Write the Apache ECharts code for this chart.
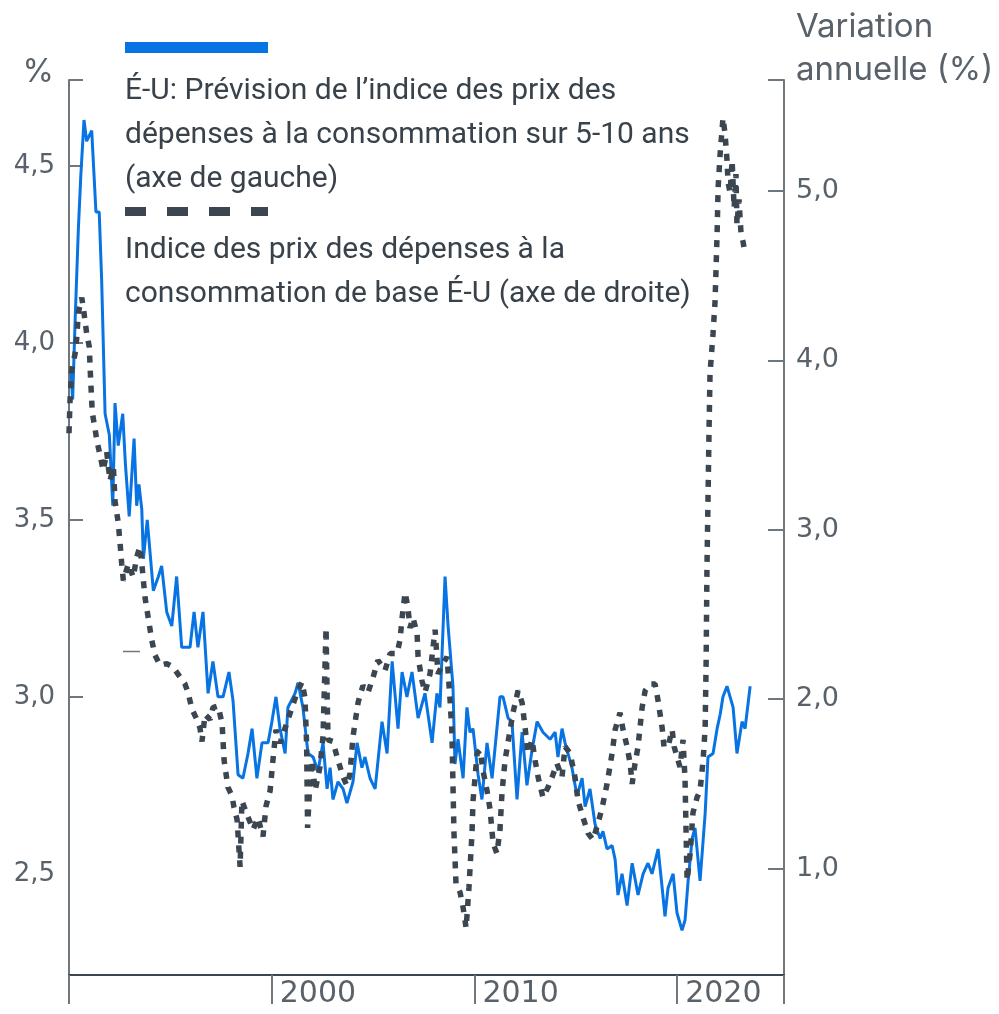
<!DOCTYPE html>
<html><head><meta charset="utf-8">
<script src="https://cdn.jsdelivr.net/npm/echarts@6/dist/echarts.min.js"></script>
<style>html,body{margin:0;padding:0;background:#fff}#c{width:999px;height:1014px}</style>
</head><body><div id="c"></div><script>
// Blue: U.S. 5-10 year PCE inflation expectation (left axis, %)
const forecastYears = [1990.10,1990.18,1990.30,1990.46,1990.58,1990.74,1990.87,1990.95,1991.12,1991.33,1991.49,1991.61,1991.78,1991.99,1992.16,1992.27,1992.43,1992.65,1992.78,1992.97,1993.21,1993.34,1993.45,1993.59,1993.67,1993.86,1994.16,1994.41,1994.57,1994.82,1995.07,1995.31,1995.56,1995.97,1996.17,1996.36,1996.61,1996.86,1997.10,1997.35,1997.60,1997.89,1998.09,1998.34,1998.58,1998.83,1999.03,1999.27,1999.52,1999.82,2000.01,2000.21,2000.41,2000.66,2000.80,2001.15,2001.30,2001.54,2001.79,2002.04,2002.28,2002.53,2002.73,2002.88,2003.02,2003.27,2003.52,2003.71,2004.01,2004.21,2004.45,2004.60,2004.85,2005.10,2005.44,2005.69,2005.94,2006.23,2006.43,2006.67,2006.92,2007.22,2007.56,2007.91,2008.15,2008.30,2008.55,2008.70,2008.94,2009.04,2009.19,2009.44,2009.63,2009.78,2009.93,2010.18,2010.37,2010.62,2010.87,2011.26,2011.41,2011.66,2011.85,2012.10,2012.35,2012.59,2012.84,2013.09,2013.38,2013.73,2013.98,2014.12,2014.32,2014.47,2014.81,2015.06,2015.31,2015.46,2015.70,2015.95,2016.20,2016.34,2016.54,2016.79,2016.94,2017.08,2017.28,2017.53,2017.78,2018.07,2018.32,2018.56,2018.76,2019.06,2019.26,2019.40,2019.55,2019.80,2019.99,2020.24,2020.39,2020.54,2020.74,2020.88,2021.13,2021.38,2021.52,2021.77,2021.97,2022.12,2022.26,2022.46,2022.61,2022.76,2022.95,2023.20,2023.35,2023.60];
const forecastValues = [3.92,3.84,4.06,4.32,4.47,4.63,4.57,4.57,4.60,4.37,4.37,4.18,3.80,3.74,3.54,3.83,3.71,3.80,3.66,3.51,3.73,3.54,3.60,3.53,3.39,3.50,3.30,3.34,3.37,3.24,3.20,3.34,3.14,3.14,3.24,3.14,3.24,3.01,3.10,3.00,3.00,3.07,2.99,2.78,2.77,2.84,2.91,2.77,2.87,2.87,2.93,3.00,2.91,2.84,2.97,3.01,3.04,2.97,2.84,2.83,2.79,2.87,2.74,2.80,2.71,2.76,2.74,2.70,2.76,2.87,2.80,2.83,2.77,2.74,2.93,2.84,3.10,2.91,3.07,3.00,3.07,2.94,3.01,2.87,3.01,2.97,3.34,3.20,3.03,2.81,2.88,2.77,2.97,2.90,2.91,2.78,2.71,2.87,2.77,3.00,3.00,2.94,2.93,2.71,2.90,2.75,2.85,2.93,2.90,2.88,2.90,2.83,2.91,2.87,2.80,2.72,2.77,2.69,2.74,2.64,2.60,2.62,2.57,2.58,2.54,2.44,2.50,2.41,2.53,2.44,2.50,2.53,2.50,2.57,2.46,2.38,2.46,2.50,2.39,2.34,2.37,2.48,2.60,2.63,2.48,2.67,2.83,2.84,2.91,2.95,3.00,3.03,3.00,2.97,2.84,2.93,2.91,3.03];

// Dashed: U.S. core PCE price index, annual change (right axis, %)
const coreYears = [1990.00,1990.05,1990.13,1990.30,1990.38,1990.46,1990.63,1990.74,1990.87,1991.00,1991.07,1991.15,1991.28,1991.37,1991.53,1991.69,1991.86,1992.02,1992.19,1992.27,1992.43,1992.52,1992.60,1992.68,1992.93,1993.17,1993.34,1993.50,1993.59,1993.75,1993.91,1994.08,1994.24,1994.49,1994.82,1995.13,1995.48,1995.72,1995.87,1996.07,1996.31,1996.46,1996.56,1996.71,1996.96,1997.10,1997.35,1997.55,1997.65,1997.84,1998.04,1998.14,1998.29,1998.44,1998.53,1998.78,1999.08,1999.32,1999.57,1999.72,1999.92,2000.06,2000.21,2000.41,2000.66,2001.00,2001.25,2001.49,2001.64,2001.72,2001.77,2001.87,2001.99,2002.14,2002.38,2002.53,2002.68,2002.73,2002.78,2003.02,2003.27,2003.52,2003.71,2003.86,2004.01,2004.26,2004.50,2004.75,2005.00,2005.24,2005.59,2005.84,2006.18,2006.33,2006.43,2006.58,2006.72,2006.82,2006.97,2007.17,2007.22,2007.41,2007.56,2007.81,2007.96,2008.06,2008.20,2008.45,2008.65,2008.80,2008.89,2008.94,2008.99,2009.09,2009.29,2009.44,2009.59,2009.73,2009.88,2009.93,2010.13,2010.28,2010.42,2010.62,2010.77,2010.92,2011.11,2011.26,2011.36,2011.51,2011.76,2011.90,2012.15,2012.35,2012.50,2012.64,2012.84,2012.99,2013.14,2013.38,2013.63,2013.83,2014.07,2014.32,2014.47,2014.72,2014.96,2015.11,2015.36,2015.60,2015.85,2016.10,2016.30,2016.54,2016.79,2016.94,2017.18,2017.33,2017.53,2017.68,2017.78,2017.92,2018.07,2018.27,2018.42,2018.66,2018.91,2019.06,2019.26,2019.35,2019.55,2019.75,2019.85,2019.99,2020.14,2020.29,2020.39,2020.46,2020.49,2020.64,2020.78,2020.98,2021.13,2021.28,2021.38,2021.43,2021.47,2021.52,2021.57,2021.62,2021.72,2021.77,2021.87,2021.92,2021.97,2022.02,2022.12,2022.26,2022.36,2022.46,2022.51,2022.61,2022.71,2022.81,2022.90,2022.95,2023.05,2023.15,2023.25,2023.35];
const coreValues = [3.57,3.76,3.94,4.04,4.13,4.28,4.37,4.28,4.16,4.08,3.88,3.69,3.60,3.53,3.44,3.35,3.46,3.29,3.37,3.17,3.04,2.92,2.80,2.70,2.80,2.72,2.84,2.90,2.80,2.60,2.48,2.35,2.26,2.20,2.21,2.19,2.13,2.09,2.04,1.94,1.88,1.83,1.75,1.91,1.88,1.95,1.96,1.86,1.64,1.48,1.43,1.36,1.29,1.01,1.40,1.32,1.23,1.30,1.19,1.37,1.46,1.64,1.82,1.74,1.83,1.95,2.04,2.10,2.01,1.74,1.24,1.48,1.64,1.46,1.60,1.78,2.42,2.04,1.76,1.75,1.64,1.54,1.49,1.56,1.78,1.98,2.08,2.04,2.13,2.23,2.17,2.27,2.27,2.35,2.48,2.63,2.54,2.42,2.48,2.39,2.25,2.11,2.04,2.15,2.31,2.41,2.15,2.21,2.25,1.99,1.80,1.50,1.21,0.91,0.86,0.77,0.65,0.89,1.21,1.40,1.68,1.70,1.58,1.46,1.35,1.15,1.09,1.23,1.45,1.64,1.82,1.92,2.05,1.98,1.83,1.68,1.76,1.64,1.54,1.42,1.48,1.54,1.62,1.54,1.72,1.68,1.54,1.40,1.30,1.21,1.17,1.27,1.36,1.50,1.68,1.82,1.92,1.82,1.72,1.62,1.50,1.62,1.72,1.95,2.05,2.09,2.09,1.99,1.83,1.72,1.72,1.82,1.72,1.66,1.60,1.76,1.52,1.09,0.93,1.09,1.33,1.42,1.46,1.64,1.83,2.23,2.78,3.17,3.57,3.92,4.08,4.16,4.35,4.55,4.75,5.02,5.22,5.43,5.34,5.18,5.05,4.99,5.18,4.90,5.10,4.80,4.95,4.75,4.70,4.63];

const leftTickValues = [3.0, 3.5, 4.0, 4.5];
const leftLabelValues = [2.5, 3.0, 3.5, 4.0, 4.5];
const rightLabelValues = [1, 2, 3, 4, 5];
const xLabelValues = [2000, 2010, 2020];
const xTickValues = [1990, 2000, 2010, 2020];

const LEFT_MIN = 2.214, LEFT_MAX = 4.743;
const RIGHT_MIN = 0.372, RIGHT_MAX = 5.655;
const X_MIN = 1990, X_MAX = 2025.27;

const legend1 = ['É-U: Prévision de l’indice des prix des', 'dépenses à la consommation sur 5-10 ans', '(axe de gauche)'];
const legend2 = ['Indice des prix des dépenses à la', 'consommation de base É-U (axe de droite)'];
const rightTitle = ['Variation', 'annuelle (%)'];

const BLUE = '#0873e3', DARK = '#3b4650', AXIS = '#6f777e', LABEL = '#59626a', TEXT = '#39424a';
const fmt = v => Number(v).toFixed(1).replace('.', ',');

const chart = echarts.init(document.getElementById('c'), null, {renderer: 'canvas'});
const zip = (a, b) => a.map((x, i) => [x, b[i]]);

const graphic = [];
graphic.push({type: 'rect', shape: {x: 125, y: 42, width: 143, height: 11}, style: {fill: BLUE}});
graphic.push({type: 'line', shape: {x1: 125, y1: 211.5, x2: 268, y2: 211.5}, style: {stroke: DARK, lineWidth: 9, lineDash: [21, 21]}});
legend1.forEach((t, i) => graphic.push({type: 'text', x: 125, y: 91 + i * 44, style: {text: t, fill: TEXT, font: '30px Roboto', verticalAlign: 'middle'}}));
legend2.forEach((t, i) => graphic.push({type: 'text', x: 125, y: 250 + i * 44, style: {text: t, fill: TEXT, font: '30px Roboto', verticalAlign: 'middle'}}));
rightTitle.forEach((t, i) => graphic.push({type: 'text', x: 796, y: 27 + i * 43, style: {text: t, fill: LABEL, font: '33px Inter', verticalAlign: 'middle'}}));
graphic.push({type: 'text', x: 54, y: 72, style: {text: '%', fill: LABEL, font: '32px Inter', align: 'right', verticalAlign: 'middle'}});
graphic.push({type: 'line', shape: {x1: 123, y1: 651.5, x2: 140, y2: 651.5}, style: {stroke: AXIS, lineWidth: 1.5}});

chart.setOption({
  animation: false,
  backgroundColor: '#fff',
  grid: {left: 69, right: 215, top: 80, bottom: 39, containLabel: false},
  xAxis: {
    type: 'value', min: X_MIN, max: X_MAX,
    axisLine: {show: true, lineStyle: {color: DARK, width: 2}},
    axisTick: {show: true, length: 29, lineStyle: {color: AXIS, width: 2}, customValues: xTickValues.concat([X_MAX])},
    axisLabel: {customValues: xLabelValues, align: 'left', padding: [0, 0, 0, 8], verticalAlign: 'top', margin: 4,
      color: LABEL, fontFamily: 'DejaVu Sans', fontSize: 30, formatter: v => String(Math.round(v))},
    splitLine: {show: false}
  },
  yAxis: [{
    type: 'value', min: LEFT_MIN, max: LEFT_MAX, position: 'left',
    axisLine: {show: true, lineStyle: {color: AXIS, width: 2}},
    axisTick: {show: true, inside: true, length: 14, lineStyle: {color: AXIS, width: 2}, customValues: leftTickValues.concat([LEFT_MAX])},
    axisLabel: {customValues: leftLabelValues, margin: 14, color: LABEL, fontFamily: 'DejaVu Sans', fontSize: 26, formatter: fmt},
    splitLine: {show: false}
  }, {
    type: 'value', min: RIGHT_MIN, max: RIGHT_MAX, position: 'right',
    axisLine: {show: true, lineStyle: {color: AXIS, width: 2}},
    axisTick: {show: true, inside: true, length: 16, lineStyle: {color: AXIS, width: 2}, customValues: rightLabelValues.concat([RIGHT_MAX])},
    axisLabel: {customValues: rightLabelValues, margin: 12, color: LABEL, fontFamily: 'DejaVu Sans', fontSize: 27, formatter: fmt},
    splitLine: {show: false}
  }],
  series: [{
    type: 'line', name: 'forecast', yAxisIndex: 0, data: zip(forecastYears, forecastValues),
    showSymbol: false, symbol: 'none', lineStyle: {color: BLUE, width: 3}, z: 2
  }, {
    type: 'line', name: 'core', yAxisIndex: 1, data: zip(coreYears, coreValues),
    showSymbol: false, symbol: 'none', lineStyle: {color: DARK, width: 5.5, type: [7, 8], cap: 'butt'}, z: 3
  }],
  graphic: graphic
});
</script></body></html>
